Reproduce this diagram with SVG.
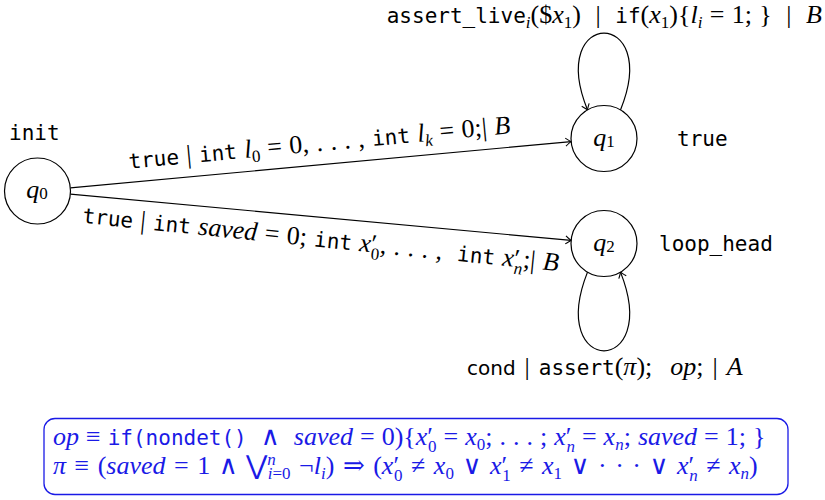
<svg xmlns="http://www.w3.org/2000/svg" width="825" height="500" viewBox="0 0 825 500" xml:space="preserve">
<style>
text{font-family:"Liberation Serif","DejaVu Serif",serif;font-size:26px;fill:#000;white-space:pre}
.tt{font-family:"DejaVu Sans Mono",monospace;font-size:21px}
.mi{font-style:italic}
.sb{font-size:17px}
.sf{font-family:"DejaVu Sans",sans-serif;font-size:20px}
.node{fill:#fff;stroke:#000;stroke-width:1.2}
.edge{fill:none;stroke:#000;stroke-width:1.2;marker-end:url(#to)}
.blue text, .blue tspan{fill:#1a1ae6}
</style>
<defs>
<marker id="to" viewBox="-7 -5 8 10" refX="0" refY="0" markerWidth="8" markerHeight="10" markerUnits="userSpaceOnUse" orient="auto">
<path d="M-5.5,-4 Q-1.5,-0.8 0,0 Q-1.5,0.8 -5.5,4" fill="none" stroke="#000" stroke-width="1.1"/>
</marker>
</defs>
<g id="connectors">
<path class="edge" d="M70.4,187.9 L571.1,141.6"/>
<path class="edge" d="M70.4,194.1 L571.1,240.4"/>
<path class="edge" d="M620.5,109.9 C662,7.5 546,7.5 587.5,109.9"/>
<path class="edge" d="M587.5,272.1 C546,377 662,377 620.5,272.1"/>
<text x="822" y="23" text-anchor="end" word-spacing="0.8"><tspan class="tt">assert_live</tspan><tspan class="mi sb" dy="5">i</tspan><tspan dy="-5">($</tspan><tspan class="mi">x</tspan><tspan class="sb" dy="5">1</tspan><tspan dy="-5">)  |  </tspan><tspan class="tt">if</tspan><tspan>(</tspan><tspan class="mi">x</tspan><tspan class="sb" dy="5">1</tspan><tspan dy="-5">){</tspan><tspan class="mi">l</tspan><tspan class="mi sb" dy="5">i</tspan><tspan dy="-5"> = 1; }  |  </tspan><tspan class="mi">B</tspan></text>
<g transform="translate(320,151) rotate(-5.3)">
<text x="0" y="0" text-anchor="middle" word-spacing="1"><tspan class="tt">true</tspan><tspan> | </tspan><tspan class="tt">int</tspan><tspan class="mi"> l</tspan><tspan class="sb" dy="5">0</tspan><tspan dy="-5"> = 0, . . . , </tspan><tspan class="tt">int</tspan><tspan class="mi"> l</tspan><tspan class="mi sb" dy="5">k</tspan><tspan dy="-5"> = 0;| </tspan><tspan class="mi">B</tspan></text>
</g>
<g transform="translate(320,247) rotate(5.8)">
<text x="0" y="0" text-anchor="middle" word-spacing="1"><tspan class="tt">true</tspan><tspan> | </tspan><tspan class="tt">int</tspan><tspan class="mi"> saved</tspan><tspan> = 0; </tspan><tspan class="tt">int</tspan><tspan class="mi"> x</tspan><tspan>′</tspan><tspan class="sb" dx="-5" dy="7">0</tspan><tspan dy="-7">, . . . ,  </tspan><tspan class="tt">int</tspan><tspan class="mi"> x</tspan><tspan>′</tspan><tspan class="mi sb" dx="-5" dy="7">n</tspan><tspan dy="-7">;| </tspan><tspan class="mi">B</tspan></text>
</g>
<text x="467" y="375" word-spacing="2.5"><tspan class="sf">cond</tspan><tspan> | </tspan><tspan class="tt">assert</tspan><tspan>(</tspan><tspan class="mi">π</tspan><tspan>);  </tspan><tspan class="mi">op</tspan><tspan>; | </tspan><tspan class="mi">A</tspan></text>
</g>
<g id="q0">
<circle class="node" cx="37.5" cy="191" r="33"/>
<text x="37" y="198" text-anchor="middle"><tspan class="mi">q</tspan><tspan class="sb" dy="1">0</tspan></text>
<text class="tt" x="9" y="140">init</text>
</g>
<g id="q1">
<circle class="node" cx="604" cy="138.5" r="33"/>
<text x="604" y="145.5" text-anchor="middle"><tspan class="mi">q</tspan><tspan class="sb" dy="1">1</tspan></text>
<text class="tt" x="677" y="146">true</text>
</g>
<g id="q2">
<circle class="node" cx="604" cy="243.5" r="33"/>
<text x="604" y="250.5" text-anchor="middle"><tspan class="mi">q</tspan><tspan class="sb" dy="1">2</tspan></text>
<text class="tt" x="659" y="251">loop_head</text>
</g>
<g id="legend" class="blue">
<rect x="44" y="418.5" width="744" height="76" rx="11" fill="none" stroke="#1a1ae6" stroke-width="1.3"/>
<text x="53" y="445" word-spacing="0.5"><tspan class="mi">op</tspan><tspan> ≡ </tspan><tspan class="tt">if(nondet()</tspan><tspan>  ∧  </tspan><tspan class="mi">saved</tspan><tspan> = 0){</tspan><tspan class="mi">x</tspan><tspan>′</tspan><tspan class="sb" dx="-5" dy="7">0</tspan><tspan dy="-7"> = </tspan><tspan class="mi">x</tspan><tspan class="sb" dy="5">0</tspan><tspan dy="-5">; . . . ; </tspan><tspan class="mi">x</tspan><tspan>′</tspan><tspan class="mi sb" dx="-5" dy="7">n</tspan><tspan dy="-7"> = </tspan><tspan class="mi">x</tspan><tspan class="mi sb" dy="5">n</tspan><tspan dy="-5">; </tspan><tspan class="mi">saved</tspan><tspan> = 1; }</tspan></text>
<text x="53" y="474" word-spacing="2"><tspan class="mi">π</tspan><tspan> ≡ (</tspan><tspan class="mi">saved</tspan><tspan> = 1 ∧ ⋁</tspan><tspan class="mi sb" dy="-9">n</tspan><tspan class="sb" dx="-8" dy="14"><tspan class="mi">i</tspan>=0</tspan><tspan dy="-5"> ¬</tspan><tspan class="mi">l</tspan><tspan class="mi sb" dy="5">i</tspan><tspan dy="-5">) ⇒ (</tspan><tspan class="mi">x</tspan><tspan>′</tspan><tspan class="sb" dx="-5" dy="7">0</tspan><tspan dy="-7"> ≠ </tspan><tspan class="mi">x</tspan><tspan class="sb" dy="5">0</tspan><tspan dy="-5"> ∨ </tspan><tspan class="mi">x</tspan><tspan>′</tspan><tspan class="sb" dx="-5" dy="7">1</tspan><tspan dy="-7"> ≠ </tspan><tspan class="mi">x</tspan><tspan class="sb" dy="5">1</tspan><tspan dy="-5"> ∨ · · · ∨ </tspan><tspan class="mi">x</tspan><tspan>′</tspan><tspan class="mi sb" dx="-5" dy="7">n</tspan><tspan dy="-7"> ≠ </tspan><tspan class="mi">x</tspan><tspan class="mi sb" dy="5">n</tspan><tspan dy="-5">)</tspan></text>
</g>
</svg>
